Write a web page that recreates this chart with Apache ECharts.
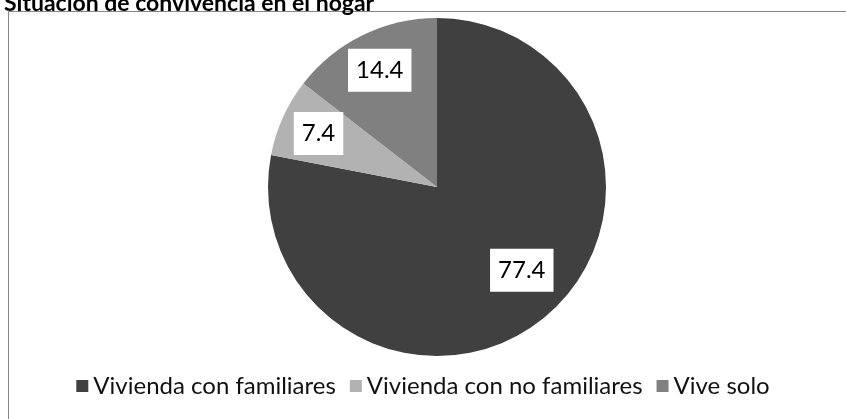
<!DOCTYPE html>
<html>
<head>
<meta charset="utf-8">
<script src="https://cdn.jsdelivr.net/npm/echarts@6/dist/echarts.min.js"></script>
<style>
html,body{margin:0;padding:0;background:#fff;}
#chart{width:846px;height:419px;}
</style>
</head>
<body>
<div id="chart"></div>
<script>
const titleText = 'Situación de convivencia en el hogar';
const categories = ['Vivienda con familiares', 'Vivienda con no familiares', 'Vive solo'];
const values = [77.4, 7.4, 14.4];
const colors = ['#404040', '#b2b2b2', '#808080'];

const chart = echarts.init(document.getElementById('chart'));
const data = categories.map((c, i) => ({ name: c, value: values[i], itemStyle: { color: colors[i] } }));
const font = 'Lato, "Open Sans", sans-serif';

chart.setOption({
  animation: false,
  title: {
    text: titleText,
    left: -1, top: -13,
    textStyle: { fontFamily: font, fontWeight: 'bold', fontSize: 23, color: '#000' }
  },
  graphic: [{
    type: 'rect',
    shape: { x: 8.5, y: 11.5, width: 860, height: 430 },
    style: { fill: 'none', stroke: '#878787', lineWidth: 1 },
    silent: true, z: -10
  }],
  legend: {
    data: categories,
    left: 'center',
    top: 369,
    itemWidth: 12, itemHeight: 12,
    itemGap: 14,
    icon: 'rect',
    textStyle: { fontFamily: font, fontSize: 24, color: '#111' }
  },
  series: [{
    type: 'pie',
    center: [437, 187],
    radius: [0, 169],
    startAngle: 90,
    clockwise: true,
    label: { show: false },
    labelLine: { show: false },
    itemStyle: { borderWidth: 0 },
    data: data
  }, {
    type: 'pie',
    center: [437, 187],
    radius: [0, 254],
    startAngle: 90,
    clockwise: true,
    silent: true,
    legendHoverLink: false,
    itemStyle: { color: 'rgba(0,0,0,0)', borderWidth: 0 },
    label: {
      show: true,
      position: 'inside',
      formatter: p => p.value.toFixed(1),
      backgroundColor: '#fff',
      padding: [10, 8, 9, 8],
      fontFamily: font,
      fontSize: 24,
      color: '#000'
    },
    labelLine: { show: false },
    data: categories.map((c, i) => ({
      name: c, value: values[i],
      label: i === 0 ? { offset: [2, -17] } : {}
    }))
  }]
});
</script>
</body>
</html>
